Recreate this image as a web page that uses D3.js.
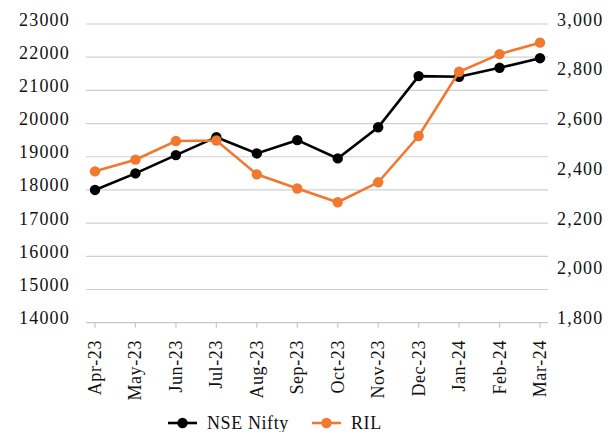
<!DOCTYPE html>
<html>
<head>
<meta charset="utf-8">
<script src="https://cdn.jsdelivr.net/npm/d3@7"></script>
<style>
  body { margin: 0; background: #fff; }
  svg { display: block; }
  text { font-family: "Liberation Serif", "DejaVu Serif", serif; fill: #111; }
</style>
</head>
<body>
<div id="chart"></div>
<script>
// months on the category axis
const months = ["Apr-23", "May-23", "Jun-23", "Jul-23", "Aug-23", "Sep-23",
                "Oct-23", "Nov-23", "Dec-23", "Jan-24", "Feb-24", "Mar-24"];
// NSE Nifty (left axis)
const nifty = [18000, 18500, 19050, 19590, 19100, 19500, 18950, 19890, 21430, 21410, 21680, 21970];
// RIL share price (right axis)
const ril = [2408, 2455, 2530, 2532, 2396, 2339, 2284, 2364, 2550, 2808, 2879, 2925];
const leftTicks = [14000, 15000, 16000, 17000, 18000, 19000, 20000, 21000, 22000, 23000];
const rightTicks = [1800, 2000, 2200, 2400, 2600, 2800, 3000];

const W = 616, H = 432;
const orange = "#F0782F";

const svg = d3.select("#chart").append("svg").attr("width", W).attr("height", H);

let x = d3.scalePoint().domain(months).range([95, 540]);
let yL = d3.scaleLinear().domain([14000, 23000]).range([322.7, 24]);
let yR = d3.scaleLinear().domain([1800, 3000]).range([322.7, 24]);

// gridlines
svg.append("g").selectAll("line")
    .data(leftTicks.slice(1))
    .join("line")
    .attr("x1", 86).attr("x2", 548)
    .attr("y1", d => yL(d)).attr("y2", d => yL(d))
    .attr("stroke", "#d0d0d0").attr("stroke-width", 1.2);

// bottom axis line + ticks
svg.append("line")
    .attr("x1", 86).attr("x2", 548)
    .attr("y1", yL(14000)).attr("y2", yL(14000))
    .attr("stroke", "#c8c8c8").attr("stroke-width", 1.2);
svg.append("g").selectAll("line")
    .data(months)
    .join("line")
    .attr("x1", d => x(d)).attr("x2", d => x(d))
    .attr("y1", yL(14000)).attr("y2", yL(14000) + 5)
    .attr("stroke", "#c8c8c8").attr("stroke-width", 1.2);

// left axis labels
svg.append("g").selectAll("text")
    .data(leftTicks)
    .join("text")
    .attr("x", 70).attr("y", d => yL(d) + 1.5)
    .attr("text-anchor", "end")
    .attr("font-size", 18)
    .attr("letter-spacing", 1.2)
    .text(d => d);

// right axis labels
let fmt = d3.format(",");
svg.append("g").selectAll("text")
    .data(rightTicks)
    .join("text")
    .attr("x", 557).attr("y", d => yR(d) + 1.5)
    .attr("font-size", 18)
    .attr("letter-spacing", 1.2)
    .text(d => fmt(d));

// category labels, rotated
svg.append("g").selectAll("text")
    .data(months)
    .join("text")
    .attr("transform", d => `translate(${x(d) + 6},340) rotate(-90)`)
    .attr("text-anchor", "end")
    .attr("font-size", 18)
    .attr("letter-spacing", 0.6)
    .text(d => d);

function drawSeries(values, yScale, color) {
    let line = d3.line()
        .x((d, i) => x(months[i]))
        .y(d => yScale(d));
    svg.append("path")
        .datum(values)
        .attr("d", line)
        .attr("fill", "none")
        .attr("stroke", color)
        .attr("stroke-width", 2.6);
    svg.append("g").selectAll("circle")
        .data(values)
        .join("circle")
        .attr("cx", (d, i) => x(months[i]))
        .attr("cy", d => yScale(d))
        .attr("r", 5.2)
        .attr("fill", color);
}

drawSeries(nifty, yL, "#000");
drawSeries(ril, yR, orange);

// legend
let legend = [
    {name: "NSE Nifty", color: "#000", x: 168},
    {name: "RIL", color: orange, x: 312}
];
let lg = svg.append("g").selectAll("g")
    .data(legend)
    .join("g")
    .attr("transform", d => `translate(${d.x},423)`);
lg.append("line")
    .attr("x1", 0).attr("x2", 29)
    .attr("stroke", d => d.color).attr("stroke-width", 2.6);
lg.append("circle")
    .attr("cx", 14.5).attr("r", 5.2)
    .attr("fill", d => d.color);
lg.append("text")
    .attr("x", 39).attr("y", 6)
    .attr("font-size", 18)
    .attr("letter-spacing", 0.6)
    .text(d => d.name);
</script>
</body>
</html>
